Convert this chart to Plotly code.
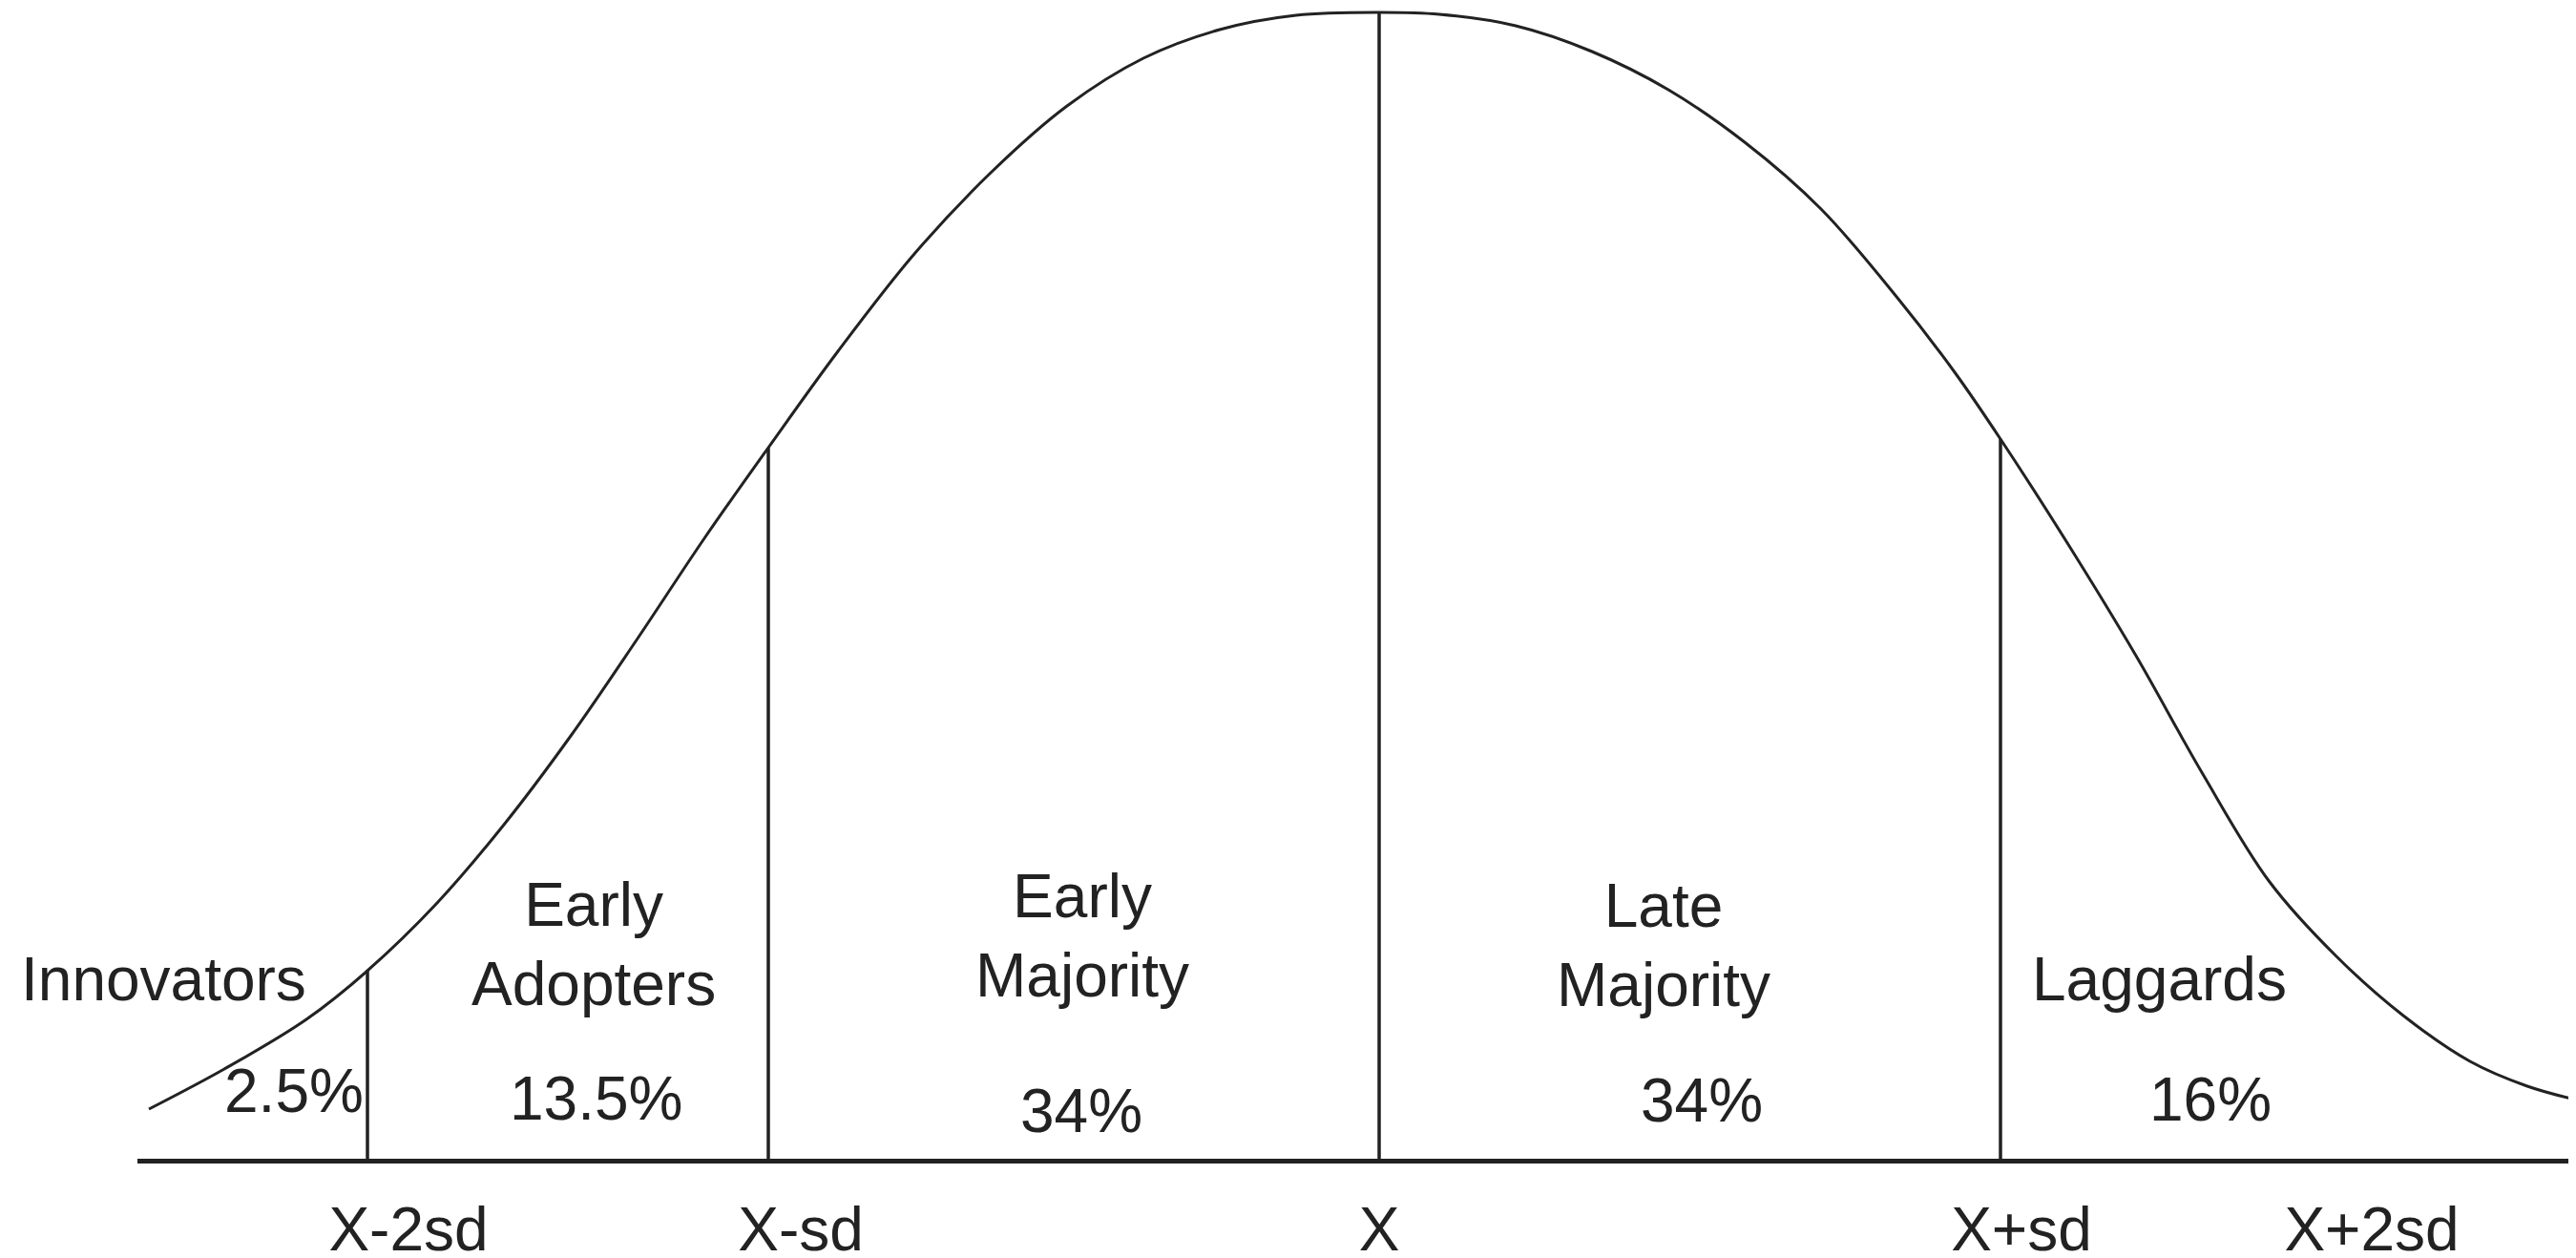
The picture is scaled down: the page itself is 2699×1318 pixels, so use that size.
import plotly.graph_objects as go

# bell curve (x position, height above the baseline)
curve_x = [148, 227, 313, 377, 450, 520, 590, 660, 730, 797, 870, 950, 1030, 1110, 1190,
           1270, 1350, 1437, 1500, 1580, 1660, 1740, 1820, 1900, 1980, 2040, 2088, 2160,
           2230, 2300, 2370, 2440, 2510, 2580, 2640, 2690]
curve_h = [52, 94, 146, 197, 268, 350, 443, 545, 650, 745, 846, 948, 1033, 1103, 1153,
           1183, 1198, 1201, 1199, 1187, 1160, 1120, 1065, 995, 902, 824, 754, 642,
           527, 403, 290, 212, 150, 102, 76, 62]

# dividers between the adopter groups
divider_x = [377, 797, 1437, 2088]
divider_h = [197, 745, 1201, 754]

# adopter groups and their shares
groups = ["Innovators", "Early<br>Adopters", "Early<br>Majority", "Late<br>Majority", "Laggards"]
shares = ["2.5%", "13.5%", "34%", "34%", "16%"]

# axis tick labels
tick_pos = [420, 831, 1437, 2110, 2477]
tick_text = ["X-2sd", "X-sd", "X", "X+sd", "X+2sd"]

INK = "#222222"
FONT = dict(family="Liberation Sans, Arial, sans-serif", size=64, color=INK)

fig = go.Figure()

fig.add_trace(go.Scatter(
    x=curve_x, y=curve_h, mode="lines",
    line=dict(color=INK, width=3, shape="spline", smoothing=1),
    hoverinfo="skip", showlegend=False
))

dx, dy = [], []
for x, h in zip(divider_x, divider_h):
    dx += [x, x, None]
    dy += [0, h, None]
fig.add_trace(go.Scatter(
    x=dx, y=dy, mode="lines",
    line=dict(color=INK, width=3.5),
    hoverinfo="skip", showlegend=False
))

# label placement (x centre, y centre of text block)
group_pos = [(163, 188), (614, 225), (1126, 234), (1735, 224), (2254, 188)]
share_pos = [(300, 71), (616, 63), (1125, 50), (1775, 61), (2308, 62)]

for name, (x, y) in zip(groups, group_pos):
    fig.add_annotation(x=x, y=y, text=name, showarrow=False, font=FONT,
                       xanchor="center", yanchor="middle")
for s, (x, y) in zip(shares, share_pos):
    fig.add_annotation(x=x, y=y, text=s, showarrow=False, font=FONT,
                       xanchor="center", yanchor="middle")

fig.update_layout(
    width=2699, height=1318,
    margin=dict(l=136, r=7, t=0, b=112),
    paper_bgcolor="white", plot_bgcolor="white",
    xaxis=dict(range=[136, 2692], showgrid=False, zeroline=False,
               showline=True, linecolor=INK, linewidth=4.5,
               tickvals=tick_pos, ticktext=tick_text, ticks="",
               tickfont=FONT, ticklabelstandoff=14),
    yaxis=dict(range=[0, 1206], visible=False, showgrid=False, zeroline=False),
)

fig.write_html("out.html")
